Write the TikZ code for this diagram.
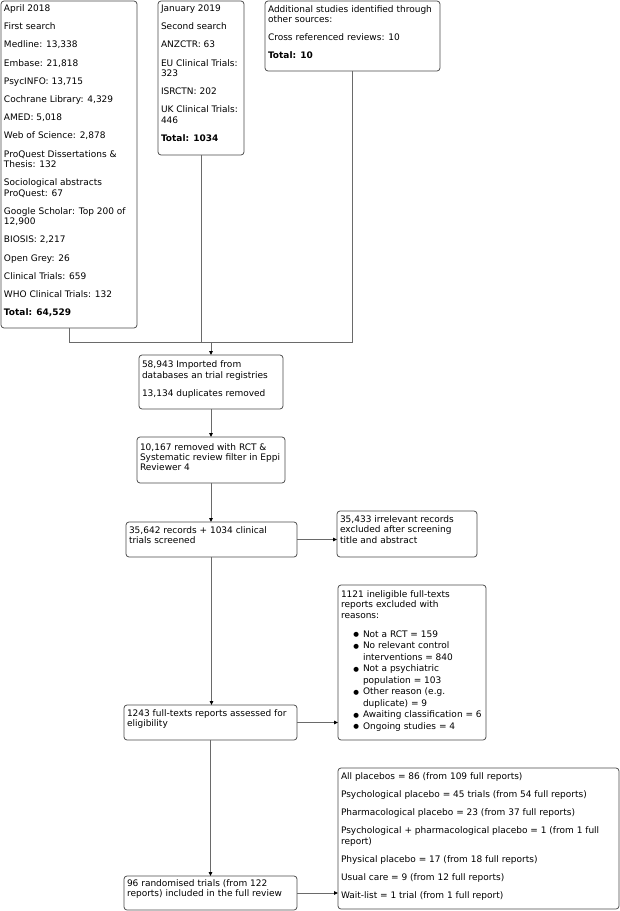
\documentclass[tikz,border=0pt]{standalone}
\usepackage{fontspec}
\newfontfamily\dv{DejaVu Sans}
\usetikzlibrary{arrows.meta}
\definecolor{boxline}{HTML}{4A4A4A}
\definecolor{conn}{HTML}{6A6A6A}
\newcommand\bx[4][11.5]{\parbox[c][#3pt][t]{#2pt}{\raggedright\parindent=0pt\parskip=7.8pt\leavevmode\rule{0pt}{#1pt}#4\par}}
\newcommand\bul{\leavevmode\llap{\raisebox{0.2pt}{\fontsize{6.5}{6.5}\selectfont ●}\hspace{4pt}}}
\begin{document}
\begin{tikzpicture}[x=1pt,y=-1pt,
  box/.style={draw=boxline, line width=0.75pt, rounded corners=3pt, inner xsep=3pt, inner ysep=0pt,
    outer sep=0pt, anchor=north west, font=\dv\fontsize{9}{10.4}\selectfont},
  conn/.style={draw=conn, line width=0.9pt},
  arr/.style={conn, -{Triangle[length=4pt,width=3.6pt,color=black]}}]
\useasboundingbox (0,0) rectangle (620,911);

\node[box] (b1) at (1,1) {\bx[10.5]{130}{327}{April 2018\par First search\par Medline: 13,338\par Embase: 21,818\par PsycINFO: 13,715\par Cochrane Library: 4,329\par AMED: 5,018\par Web of Science: 2,878\par ProQuest Dissertations \& Thesis: 132\par Sociological abstracts ProQuest: 67\par Google Scholar: Top 200 of 12,900\par BIOSIS: 2,217\par Open Grey: 26\par Clinical Trials: 659\par WHO Clinical Trials: 132\par \textbf{Total: 64,529}}};

\node[box] (b2) at (158,1) {\bx[10.5]{80}{154}{January 2019\par Second search\par ANZCTR: 63\par EU Clinical Trials: 323\par ISRCTN: 202\par UK Clinical Trials: 446\par \textbf{Total: 1034}}};

\node[box] (b3) at (265,1) {\bx[11]{169}{70}{Additional studies identified through other sources:\par Cross referenced reviews: 10\par \textbf{Total: 10}}};

\node[box] (b4) at (139,355) {\bx[12.7]{138}{54}{58,943 Imported from databases an trial registries\par 13,134 duplicates removed}};

\node[box] (b5) at (137,437) {\bx[13]{142}{46}{10,167 removed with RCT \& Systematic review filter in Eppi Reviewer 4}};

\node[box] (b6) at (126,522) {\bx[11.3]{165}{35}{\rightskip=5pt plus 1fil\relax 35,642 records + 1034 clinical trials screened}};

\node[box] (b7) at (337,511) {\bx[11.3]{134}{46}{\rightskip=8pt plus 1fil\relax 35,433 irrelevant records excluded after screening title and abstract}};

\node[box] (b8) at (338,585) {\bx[12.3]{142}{155}{\rightskip=6pt plus 1fil\relax 1121 ineligible full-texts reports excluded with reasons:\par
  \parskip=0pt \baselineskip=11.5pt \leftskip=22pt \rightskip=-3pt plus 1fil\relax
  \vspace{7.5pt}
  \bul Not a RCT = 159\par
  \bul No relevant control interventions = 840\par
  \bul Not a psychiatric population = 103\par
  \bul Other reason (e.g. duplicate) = 9\par
  \bul Awaiting classification = 6\par
  \bul Ongoing studies = 4}};

\node[box] (b9) at (338,768) {\bx[11]{275}{141}{All placebos = 86 (from 109 full reports)\par Psychological placebo = 45 trials (from 54 full reports)\par Pharmacological placebo = 23 (from 37 full reports)\par Psychological + pharmacological placebo = 1 (from 1 full report)\par Physical placebo = 17 (from 18 full reports)\par Usual care = 9 (from 12 full reports)\par Wait-list = 1 trial (from 1 full report)}};

\node[box] (b10) at (124,705) {\bx[11.3]{167}{35}{1243 full-texts reports assessed for eligibility}};

\node[box] (b11) at (124,876) {\bx[10.3]{167}{34}{96 randomised trials (from 122 reports) included in the full review}};

\coordinate (jy) at (0,342);
\draw[conn] (b1.south) |- (jy -| b3.south) -- (b3.south);
\draw[conn] (b2.south) -- (b2.south |- jy);
\draw[arr] (jy -| b4.north) -- (b4.north);
\draw[arr] (b4.south) -- (b5.north);
\draw[arr] (b5.south) -- (b5.south |- b6.north);
\draw[arr] (b6.east) -- (b6.east -| b7.west);
\draw[arr] (b6.south) -- (b6.south |- b10.north);
\draw[arr] (b10.east) -- (b10.east -| b8.west);
\draw[arr] (b10.south) -- (b10.south |- b11.north);
\draw[arr] (b11.east) -- (b11.east -| b9.west);
\end{tikzpicture}
\end{document}
